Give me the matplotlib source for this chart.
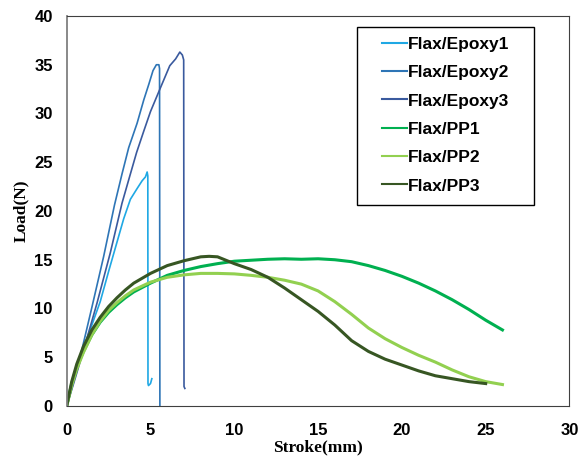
import matplotlib.pyplot as plt
from matplotlib.patches import Rectangle

# Flax/Epoxy specimens (stroke in mm, load in N)
epoxy1_x = [0, 0.5, 1.0, 1.5, 2.0, 2.5, 3.0, 3.4, 3.8, 4.2, 4.5, 4.7, 4.8, 4.84, 4.85, 4.88, 5.0, 5.08]
epoxy1_y = [0, 3.0, 6.0, 8.3, 10.7, 13.8, 16.8, 19.2, 21.2, 22.3, 23.1, 23.5, 24.0, 23.6, 2.3, 2.1, 2.3, 2.8]

epoxy2_x = [0, 0.4, 0.8, 1.5, 2.2, 2.85, 3.3, 3.7, 4.2, 4.6, 4.9, 5.15, 5.35, 5.5, 5.54, 5.56]
epoxy2_y = [0, 2.7, 5.0, 10.1, 15.3, 20.6, 23.8, 26.5, 29.0, 31.4, 33.0, 34.4, 35.0, 35.0, 34.6, 0.0]

epoxy3_x = [0, 0.5, 1.0, 1.8, 2.6, 3.3, 3.75, 4.17, 4.6, 5.0, 5.56, 6.15, 6.5, 6.75, 6.9, 6.98, 7.0, 7.05]
epoxy3_y = [0, 2.8, 5.7, 10.5, 15.7, 20.8, 23.5, 26.0, 28.2, 30.2, 32.5, 34.9, 35.6, 36.3, 36.0, 35.5, 2.0, 1.8]

# Flax/PP specimens
pp1_x = [0, 0.3, 0.6, 1.0, 1.5, 2.0, 2.5, 3.0, 3.5, 4.0, 5.0, 6.0, 7.0, 8.0, 9.0, 10.0, 11.0, 12.0, 13.0, 14.0,
         15.0, 16.0, 17.0, 18.0, 19.0, 20.0, 21.0, 22.0, 23.0, 24.0, 25.0, 26.0]
pp1_y = [0, 2.3, 4.0, 5.6, 7.3, 8.6, 9.6, 10.4, 11.1, 11.7, 12.6, 13.4, 13.9, 14.3, 14.6, 14.85, 14.95, 15.05, 15.1, 15.05,
         15.1, 15.0, 14.8, 14.4, 13.9, 13.3, 12.6, 11.8, 10.9, 9.9, 8.8, 7.8]

pp2_x = [0, 0.3, 0.6, 1.0, 1.5, 2.0, 2.5, 3.0, 3.5, 4.0, 5.0, 6.0, 7.0, 8.0, 9.0, 10.0, 11.0, 12.0, 13.0, 14.0,
         15.0, 16.0, 17.0, 18.0, 19.0, 20.0, 21.0, 22.0, 23.0, 24.0, 25.0, 26.0]
pp2_y = [0, 2.1, 3.8, 5.5, 7.3, 8.7, 9.8, 10.6, 11.3, 11.9, 12.7, 13.2, 13.45, 13.6, 13.6, 13.55, 13.4, 13.2, 12.9, 12.5,
         11.8, 10.7, 9.4, 8.0, 6.9, 6.0, 5.2, 4.5, 3.7, 3.0, 2.5, 2.2]

pp3_x = [0, 0.3, 0.6, 1.0, 1.5, 2.0, 2.5, 3.0, 3.5, 4.0, 5.0, 6.0, 7.0, 8.0, 8.5, 9.0, 10.0, 11.0, 12.0, 13.0,
         14.0, 15.0, 16.0, 17.0, 18.0, 19.0, 20.0, 21.0, 22.0, 23.0, 24.0, 25.0]
pp3_y = [0, 2.5, 4.3, 6.1, 7.8, 9.1, 10.2, 11.1, 11.9, 12.6, 13.6, 14.4, 14.9, 15.3, 15.35, 15.3, 14.6, 14.0, 13.2, 12.1,
         10.9, 9.7, 8.3, 6.7, 5.6, 4.8, 4.2, 3.6, 3.1, 2.8, 2.5, 2.3]

fig = plt.figure(figsize=(5.81, 4.57), dpi=100)
ax = fig.add_axes([0.1148, 0.1116, 0.8654, 0.8534])

ax.plot(epoxy1_x, epoxy1_y, color='#1fa8e4', lw=1.2, label='Flax/Epoxy1')
ax.plot(epoxy2_x, epoxy2_y, color='#2e75b6', lw=1.2, label='Flax/Epoxy2')
ax.plot(epoxy3_x, epoxy3_y, color='#3a5a9e', lw=1.2, label='Flax/Epoxy3')
ax.plot(pp1_x, pp1_y, color='#00b050', lw=2.2, label='Flax/PP1')
ax.plot(pp2_x, pp2_y, color='#92d050', lw=2.2, label='Flax/PP2')
ax.plot(pp3_x, pp3_y, color='#375623', lw=2.2, label='Flax/PP3')

ax.set_xlim(0, 30)
ax.set_ylim(0, 40)
ax.set_xticks(range(0, 31, 5))
ax.set_yticks(range(0, 41, 5))
ax.tick_params(axis='x', length=0, pad=12.5, labelsize=12)
ax.tick_params(axis='y', length=0, pad=10, labelsize=12)
for lab in ax.get_xticklabels() + ax.get_yticklabels():
    lab.set_fontweight('bold')
    lab.set_family('Liberation Sans')

for side in ['top', 'right', 'bottom']:
    ax.spines[side].set_color('#404040')
ax.spines['left'].set_color('#808080')
ax.spines['left'].set_linewidth(1.3)

ax.set_xlabel('Stroke(mm)', family='Liberation Serif', fontweight='bold', fontsize=12.5, labelpad=1)
ax.set_ylabel('Load(N)', family='Liberation Serif', fontweight='bold', fontsize=12.5, labelpad=4)

# legend box drawn separately (wide side padding like the original)
ax.add_patch(Rectangle((0.5774, 0.5154), 0.352, 0.4564, transform=ax.transAxes,
                       facecolor='white', edgecolor='black', lw=1.0, zorder=4))
leg = ax.legend(loc='upper left', bbox_to_anchor=(0.6265, 0.947), frameon=False,
                prop={'family': 'Liberation Sans', 'weight': 'bold', 'size': 12.5},
                labelspacing=0.76, handlelength=1.44, handletextpad=0.05, borderpad=0, borderaxespad=0)
leg.set_zorder(5)
for h in leg.get_lines():
    h.set_linewidth(1.5)

fig.savefig('out.png', dpi=100)
